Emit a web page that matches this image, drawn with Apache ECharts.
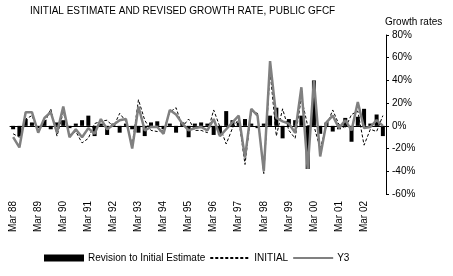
<!DOCTYPE html>
<html>
<head>
<meta charset="utf-8">
<script src="https://cdn.jsdelivr.net/npm/echarts@6/dist/echarts.min.js"></script>
<style>
html,body{margin:0;padding:0;background:#fff;}
#chart{width:453px;height:276px;}
</style>
</head>
<body>
<div id="chart"></div>
<script>
// Quarter categories Mar 88 .. Dec 02
var years = ['88','89','90','91','92','93','94','95','96','97','98','99','00','01','02'];
var months = ['Mar','Jun','Sep','Dec'];
var categories = [];
years.forEach(function(y){ months.forEach(function(m){ categories.push(m + ' ' + y); }); });

var revision = [-3,-9,6,3,-2,5,-3,3,5,-2,
                2,5,9,-9,2,-8,2,-6,2,-3,
                -6,-9,3,4,-3,2,-6,3,-10,2,
                3,2,-8,-8,13,5,3,6,2,-2,
                2,9,16,-11,6,5,9,-38,40,-7,
                3,-5,-3,7,-14,8,15,2,10,-9];

var initial = [-7,-10,6,9,-4,2,15,-9,12,-8,
               -5,-15,-11,2,4,5,-1,11,4,-17,
               23,5,-4,-5,-4,12,16,-1,6,-4,
               -4,-6,14,-1,-16,-2,6,-34,13,11,
               -42,48,-9,15,-4,-11,25,0,0,-20,
               0,14,1,-2,10,13,-17,-3,-5,9];

var y3 = [-10,-19,12,12,-6,7,12,-6,17,-10,
          -3,-10,-2,-7,6,-3,1,5,6,-20,
          17,-4,-1,-1,-7,14,10,2,-4,-2,
          -1,-4,6,-9,-3,3,9,-28,15,9,
          -40,57,7,4,2,-6,34,-38,40,-27,
          3,9,-2,5,-4,21,-2,-1,5,0];

var yTicks = {min:-60, max:80, step:20};

var chart = echarts.init(document.getElementById('chart'), null, {renderer:'canvas'});
var font = 'Liberation Sans, Arial, sans-serif';
chart.setOption({
  animation:false,
  backgroundColor:'#fff',
  textStyle:{fontFamily:font},
  title:{
    text:'INITIAL ESTIMATE AND REVISED GROWTH RATE, PUBLIC GFCF',
    left:30, top:6, padding:0,
    textStyle:{fontSize:10, fontWeight:'normal', color:'#000', fontFamily:font}
  },
  legend:{
    left:44, top:253, padding:0,
    itemWidth:40, itemHeight:7, itemGap:4,
    textStyle:{fontSize:10, color:'#000', fontFamily:font, padding:[0,0,0,-1]},
    data:[
      {name:'Revision to Initial Estimate', icon:'rect'},
      {name:'INITIAL', itemStyle:{opacity:0}},
      {name:'Y3', itemStyle:{opacity:0}}
    ]
  },
  grid:{left:10, right:67, top:35, bottom:82, containLabel:false},
  xAxis:[{
    type:'category',
    data:categories,
    boundaryGap:true,
    position:'bottom',
    axisLine:{show:false, onZero:false},
    axisTick:{show:false},
    axisLabel:{interval:3, rotate:90, fontSize:10, color:'#000', margin:7, fontFamily:font}
  },{
    type:'category',
    data:categories,
    boundaryGap:true,
    axisLine:{show:true, onZero:true, lineStyle:{color:'#000', width:1}},
    axisTick:{show:false},
    axisLabel:{show:false}
  }],
  yAxis:{
    type:'value',
    position:'right',
    min:yTicks.min, max:yTicks.max, interval:yTicks.step,
    name:'Growth rates',
    nameLocation:'end',
    nameGap:13,
    nameTextStyle:{fontSize:10, color:'#000', align:'left', verticalAlign:'middle', padding:[0,0,0,-1], fontFamily:font},
    axisLine:{show:true, lineStyle:{color:'#000', width:1}},
    axisTick:{show:true, inside:false, length:3, lineStyle:{color:'#000'}},
    axisLabel:{formatter:'{value}%', fontSize:10, color:'#000', margin:6, fontFamily:font},
    splitLine:{show:false}
  },
  series:[
    {
      name:'Revision to Initial Estimate',
      type:'bar',
      data:revision,
      barWidth:4,
      itemStyle:{color:'#000'},
      z:2
    },
    {
      name:'INITIAL',
      type:'line',
      data:initial,
      symbol:'none',
      lineStyle:{color:'#000', width:1, type:[3,2]},
      itemStyle:{color:'#000'},
      z:3
    },
    {
      name:'Y3',
      type:'line',
      data:y3,
      symbol:'none',
      lineStyle:{color:'#808080', width:2.5},
      itemStyle:{color:'#808080'},
      z:4
    }
  ]
});
</script>
</body>
</html>
